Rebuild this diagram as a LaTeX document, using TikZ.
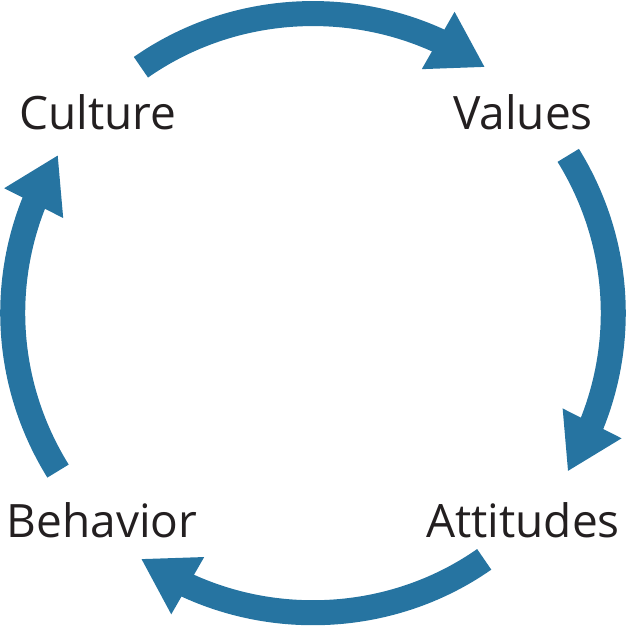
\documentclass[tikz,border=0pt]{standalone}
\usepackage{fontspec}
\setmainfont{Open Sans}
\usetikzlibrary{positioning,arrows.meta,bending}
\definecolor{cycleblue}{RGB}{38,116,161}
\definecolor{wordgray}{RGB}{35,31,32}

\begin{document}
\begin{tikzpicture}[x=1pt, y=1pt, on grid,
  word/.style={text=wordgray, inner sep=0pt, font=\fontsize{46}{55}\selectfont},
  flow/.style={line width=25pt, cycleblue, looseness=0.93, -{Triangle[length=54pt, width=62pt, flex]}}]
\useasboundingbox (-313,-313) rectangle (313,313);
\node[word, anchor=base]	(culture)	at (-215,183)			{Culture};
\node[word]				(values)	[right=425pt of culture]	{Values};
\node[word]				(attitudes)	[below=407pt of values]		{Attitudes};
\node[word]				(behavior)	[left=421pt of attitudes]	{Behavior};
% ends of the arrows on the circle
\coordinate (c-out) at (125:300pt);
\coordinate (v-in)  at (55:300pt);
\coordinate (v-out) at (31.7:300pt);
\coordinate (a-in)  at (-31.9:300pt);
\coordinate (a-out) at (-55.2:300pt);
\coordinate (b-in)  at (-125:300pt);
\coordinate (b-out) at (211.8:300pt);
\coordinate (c-in)  at (148.2:300pt);
\path[flow]	(c-out)	edge [bend left=35]		(v-in)
			(v-out)	edge [bend left=31.8]	(a-in)
			(a-out)	edge [bend left=35.1]	(b-in)
			(b-out)	edge [bend left=31.8]	(c-in);
\end{tikzpicture}
\end{document}
